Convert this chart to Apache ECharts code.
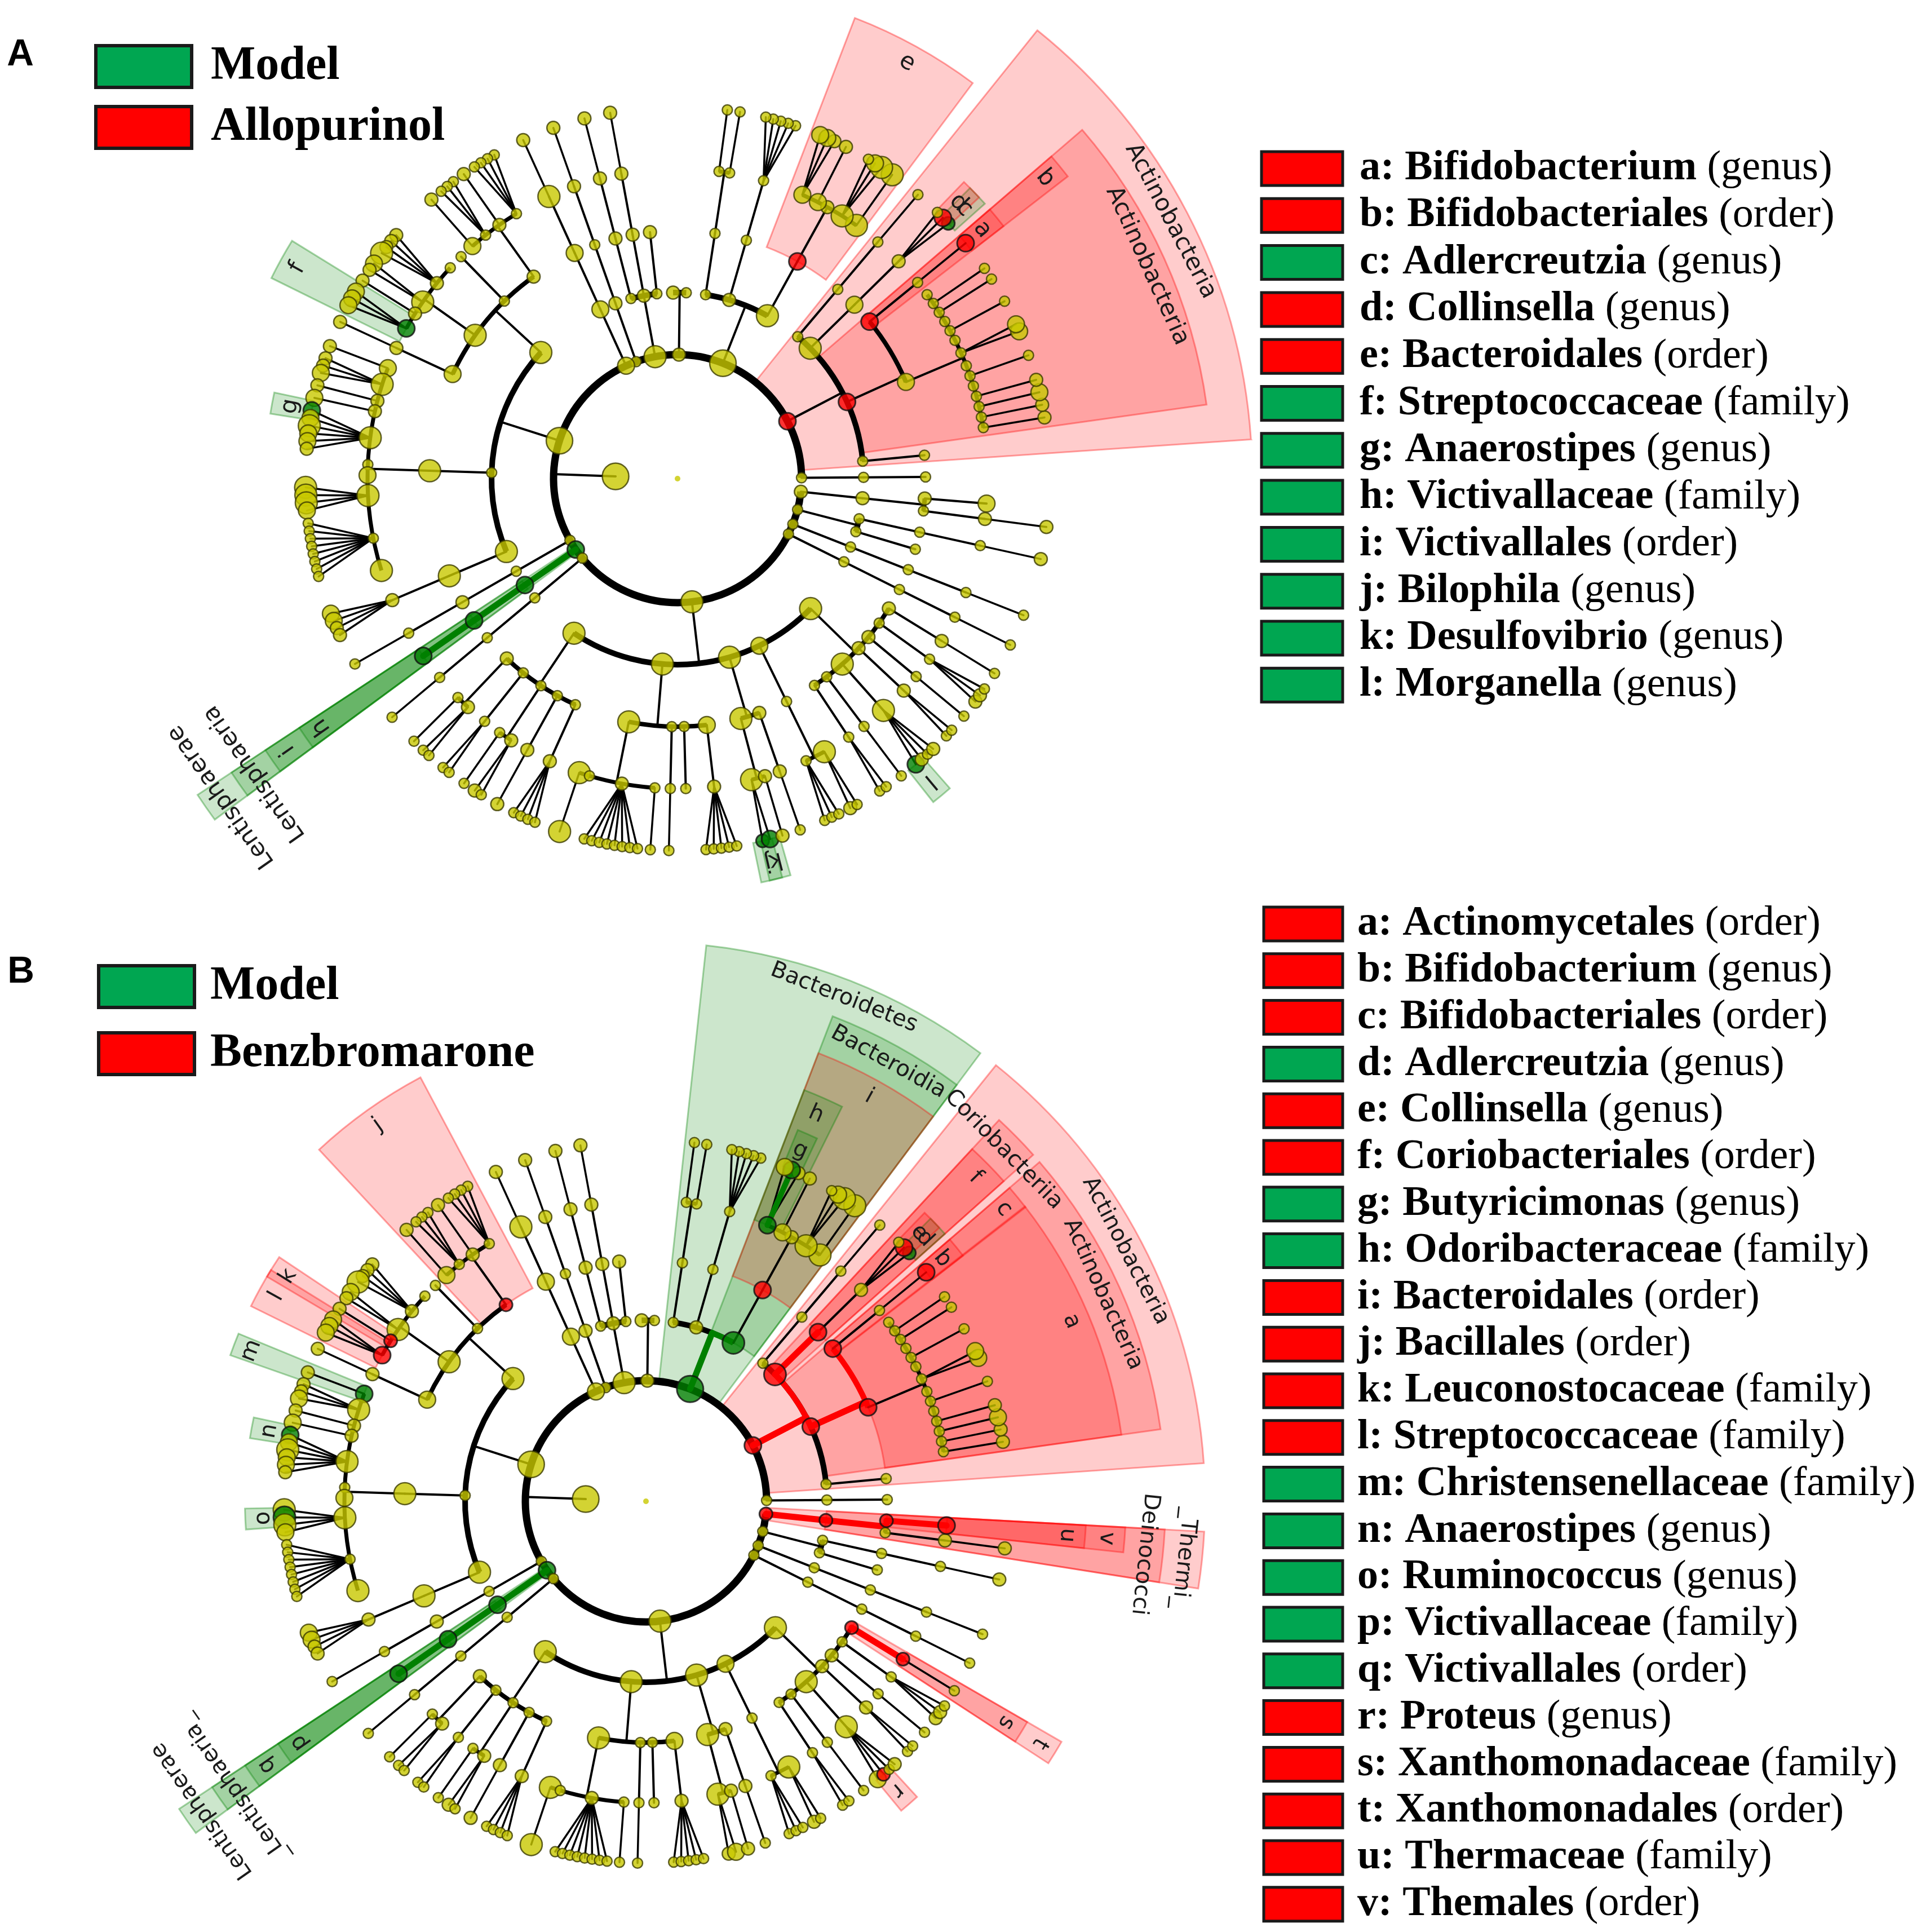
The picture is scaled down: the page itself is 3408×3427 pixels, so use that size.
<!DOCTYPE html>
<html>
<head>
<meta charset="utf-8">
<script src="https://cdn.jsdelivr.net/npm/echarts@6/dist/echarts.min.js"></script>
<style>
html,body{margin:0;padding:0;background:#ffffff;}
#chart{width:3408px;height:3427px;}
</style>
</head>
<body>
<div id="chart"></div>
<script>
// ================= DATA =================
// Taxonomic tree (kingdom > phylum > class > order > family > genus), same tree in both panels.
// node = [node size class (log abundance, 1..5), taxon key, children]
const phylumUnclassified = [1,'',[[1,'',[[1]]]]];
const phylumActinobacteria = [3,'Actinobacteria_p',[
  [1,'',[[1]]],
  [3,'Actinobacteria_c',[
    [3,'Actinomycetales',[
      [1,'',[[2]]],[1,'',[[2]]],[1,'',[[3]]],[1,'',[[2]]],[1],[1,'',[[1]]],[1],
      [1,'',[[3],[3]]],[1],[1,'',[[1]]],[1],[1,'',[[1]]],[1,'',[[1]]],[1]
    ]],
    [3,'Bifidobacteriales',[[1,'',[[3,'Bifidobacterium']]]]]
  ]],
  [4,'Coriobacteriia',[[3,'Coriobacteriales',[[2,'',[[2,'Adlercreutzia'],[3,'Collinsella'],[1]]]]]]],
  [1,'',[[1,'',[[1,'',[[1]]]]]]]
]];
const phylumBacteroidetes = [5,'Bacteroidetes',[
  [4,'Bacteroidia',[[3,'Bacteroidales',[
    [4,'',[[4]]],
    [4,'',[[4],[3],[1]]],
    [2],
    [3,'',[[2]]],
    [3,'Odoribacteraceae',[[2],[3,'Butyricimonas'],[3]]]
  ]]]],
  [2,'',[[1,'',[[1,'',[[1],[1],[1],[1],[1]]]]]]],
  [1,'',[[1,'',[[1,'',[[1]]],[1,'',[[1]]]]]]]
]];
const phylumSmall1 = [2,'',[[1],[2]]];
const phylumSmall2 = [4,'',[[1,'',[[2]]],[2,'',[[2,'',[[2,'',[[2]]]]]]],[1,'',[[2,'',[[2,'',[[2]]]]]]]]];
const phylumSmall3 = [1,'',[[2,'',[[1,'',[[2,'',[[2]]]]]]]]];
const phylumSmall4 = [3,'',[[3,'',[[3,'',[[4,'',[[2]]]]]]]]];
const phylumFirmicutes = [5,'',[
  [4,'Bacilli',[
    [2,'Bacillales',[
      [1,'',[[1],[1],[1],[1]]],
      [2,'',[[2]]],
      [1,'',[[1],[1],[1]]],
      [3,'',[[2]]]
    ]],
    [1,'',[[1]]],
    [4,'Lactobacillales',[
      [1],
      [2,'',[[2],[2],[2],[4]]],
      [4,'',[[3],[2]]],
      [2,'Leuconostocaceae',[[2]]],
      [3,'Streptococcaceae',[[3],[3],[3]]]
    ]],
    [3,'',[[2,'',[[2]]]]]
  ]],
  [1,'',[[4,'Clostridiales',[
    [3,'Christensenellaceae',[[2]]],
    [4,'',[[2],[2],[3]]],
    [2,'',[[2]]],
    [2,'',[[3]]],
    [4,'',[[3,'Anaerostipes'],[3],[4],[3],[3],[2]]],
    [1],
    [3],
    [4,'',[[4],[4,'Ruminococcus'],[4],[3]]],
    [1,'',[[1],[1],[1],[1],[1],[1],[1],[1]]],
    [4]
  ]]]],
  [4,'',[[4,'',[[2,'',[[3],[3],[2],[2]]]]]]]
]];
const phylumFuso = [1,'',[[1,'',[[2,'',[[1,'',[[1]]]]]]]]];
const phylumLentisphaerae = [3,'Lentisphaerae',[[3,'Lentisphaeria',[[3,'Victivallales',[[3,'Victivallaceae']]]]]]];
const phylumSmall5 = [1,'',[[1,'',[[1,'',[[1,'',[[1]]]]]]]]];
const phylumProteobacteria = [4,'',[
  [4,'',[
    [2,'',[[1,'',[[1]]],[2,'',[[1],[1]]]]],
    [1,'',[[1,'',[[1],[1]]]]],
    [1,'',[[1,'',[[1]]],[2,'',[[2],[1]]]]],
    [1,'',[[2,'',[[2]]]]],
    [1,'',[[2,'',[[1],[1],[1],[1]]]]]
  ]],
  [4,'',[
    [4,'',[[4,'',[[4]]],[1],[2,'',[[1],[1],[1],[1],[1],[1],[1],[1]]],[1,'',[[1]]]]],
    [1,'',[[1,'',[[1]]]]],
    [1,'',[[1]]],
    [3,'',[[2,'',[[1],[1],[1],[1],[1]]]]]
  ]],
  [4,'',[
    [4,'',[[4,'',[[2,'Bilophila'],[3,'Desulfovibrio']]],[2,'',[[2]]]]],
    [2,'',[[2,'',[[1]]]]]
  ]],
  [3,'',[[1,'',[[1,'',[[1],[1],[1]]],[4,'',[[2],[1]]]]]]],
  [4,'',[
    [1,'',[[1,'',[[1],[1]]]]],
    [1,'',[[1,'',[[1]]]]],
    [4,'Enterobacteriales',[[4,'Enterobacteriaceae',[[3,'Morganella'],[2,'Proteus'],[1],[2]]]]],
    [2,'',[[2,'',[[1],[1]]]]],
    [2,'',[[1,'',[[1]]]]],
    [1,'',[[1,'',[[2],[2],[1]]]]],
    [2,'Xanthomonadales',[[2,'Xanthomonadaceae',[[1]]]]]
  ]]
]];
const phylumLast1 = [1,'',[[1,'',[[1,'',[[1,'',[[1]]]]]]]]];
const phylumLast2 = [1,'',[[1,'',[[1,'',[[1,'',[[1]]]]]]]]];
const phylumLast3 = [1,'',[[1,'',[[1]]],[1,'',[[1,'',[[1,'',[[2]]]]]]]]];
const phylumThermi = [2,'Thermi',[[2,'Deinococci',[[1,'',[[2,'',[[2]]]]],[2,'Thermales',[[3,'Thermaceae']]]]]]];
const phylaOrder = [phylumUnclassified, phylumActinobacteria, phylumBacteroidetes, phylumSmall1, phylumSmall2,
  phylumSmall3, phylumSmall4, phylumFirmicutes, phylumFuso, phylumLentisphaerae, phylumSmall5,
  phylumProteobacteria, phylumLast1, phylumLast2, phylumLast3, phylumThermi];
const kingdomSize = 5;

// Biomarkers: [letter, taxon key, rank, enriched group (R = treatment, G = Model), printed name]
const biomarkersA = [
  ['a','Bifidobacterium','genus','R'],
  ['b','Bifidobacteriales','order','R'],
  ['c','Adlercreutzia','genus','G'],
  ['d','Collinsella','genus','R'],
  ['e','Bacteroidales','order','R'],
  ['f','Streptococcaceae','family','G'],
  ['g','Anaerostipes','genus','G'],
  ['h','Victivallaceae','family','G'],
  ['i','Victivallales','order','G'],
  ['j','Bilophila','genus','G'],
  ['k','Desulfovibrio','genus','G'],
  ['l','Morganella','genus','G']
];
const namedCladesA = [
  ['Actinobacteria_p','Actinobacteria','R'],
  ['Actinobacteria_c','Actinobacteria','R'],
  ['Lentisphaerae','Lentisphaerae','G'],
  ['Lentisphaeria','Lentisphaeria','G']
];
const biomarkersB = [
  ['a','Actinomycetales','order','R'],
  ['b','Bifidobacterium','genus','R'],
  ['c','Bifidobacteriales','order','R'],
  ['d','Adlercreutzia','genus','G'],
  ['e','Collinsella','genus','R'],
  ['f','Coriobacteriales','order','R'],
  ['g','Butyricimonas','genus','G'],
  ['h','Odoribacteraceae','family','G'],
  ['i','Bacteroidales','order','R'],
  ['j','Bacillales','order','R'],
  ['k','Leuconostocaceae','family','R'],
  ['l','Streptococcaceae','family','R'],
  ['m','Christensenellaceae','family','G'],
  ['n','Anaerostipes','genus','G'],
  ['o','Ruminococcus','genus','G'],
  ['p','Victivallaceae','family','G'],
  ['q','Victivallales','order','G'],
  ['r','Proteus','genus','R'],
  ['s','Xanthomonadaceae','family','R'],
  ['t','Xanthomonadales','order','R'],
  ['u','Thermaceae','family','R'],
  ['v','Thermales','order','R','Themales']
];
const namedCladesB = [
  ['Actinobacteria_p','Actinobacteria','R'],
  ['Actinobacteria_c','Actinobacteria','R'],
  ['Coriobacteriia','Coriobacteriia','R'],
  ['Bacteroidetes','Bacteroidetes','G'],
  ['Bacteroidia','Bacteroidia','G'],
  ['Lentisphaerae','Lentisphaerae','G'],
  ['Lentisphaeria','_Lentisphaeria_','G'],
  ['Thermi','_Thermi_','R'],
  ['Deinococci','Deinococci','R']
];
const groupsA = [['Model','G'],['Allopurinol','R']];
const groupsB = [['Model','G'],['Benzbromarone','R']];

// ================= LAYOUT / STYLE =================
const GAP = {1:4.2, 2:3.4, 3:2.4, 4:1.66, 5:1.0};   // angular spacing between neighbouring leaves by shared depth
const START_ANGLE = 0.4;
const SIZE_PX = [0,18,23,30,39,47];
const RING_W = {2:13, 3:10, 4:8, 5:7};
const LINE_COL = ['#000000','#ff0000','#008000'];
const NODE_COL = {R:'#ff0000', G:'#008000'};
const SEC_FILL = [null,'rgba(255,0,0,0.2)','rgba(0,128,0,0.2)'];
const SEC_STROKE = [null,'rgba(255,0,0,0.35)','rgba(0,128,0,0.35)'];
const LEG_COL = {R:'#ff0000', G:'#00a651'};

function layoutTree(){
  const leaves=[], all=[];
  function walk(arr, level, path){
    const n = {size:arr[0], key:arr[1]||'', level:level, kids:[]};
    n.path = path.concat([n]);
    (arr[2]||[]).forEach(c => n.kids.push(walk(c, level+1, n.path)));
    if(!n.kids.length) leaves.push(n);
    all.push(n);
    return n;
  }
  const root = walk([kingdomSize,'',phylaOrder], 1, []);
  let pos = 0; const p = [];
  leaves.forEach((l,i) => {
    if(i>0){
      const a = leaves[i-1].path, b = l.path; let d = 0;
      while(d<a.length && d<b.length && a[d]===b[d]) d++;
      pos += GAP[d];
    }
    p.push(pos);
  });
  const total = pos + GAP[1];
  leaves.forEach((l,i) => { l.angle = START_ANGLE + p[i]*360/total; });
  (function fin(n){
    if(n.kids.length){
      n.kids.forEach(fin);
      n.amin = Math.min.apply(null, n.kids.map(k=>k.amin));
      n.amax = Math.max.apply(null, n.kids.map(k=>k.amax));
      n.angle = (n.amin+n.amax)/2;
    } else { n.amin = n.amax = n.angle; }
  })(root);
  return {root, all};
}
const TREE = layoutTree();

function panelSeries(pi, bioList, named, colorAll, fontPx){
  const info = {};
  bioList.forEach(b => info[b[1]] = {col:b[3], label:b[0]});
  named.forEach(b => info[b[0]] = {col:b[2], label:b[1]});
  const code = c => c==='R' ? 1 : 2;
  const nodeData = [], lineData = [], arcData = [], secItems = [], labData = [], labTexts = [];
  nodeData.push({value:[0,0], symbolSize:10, itemStyle:{color:'#c8c800', borderWidth:0}});
  TREE.all.forEach(n => {
    const bi = info[n.key];
    nodeData.push({value:[n.level, n.angle], symbolSize:SIZE_PX[n.size],
      itemStyle:{color: bi ? NODE_COL[bi.col] : '#c8c800', borderColor: bi ? '#111111' : '#3c3c00', borderWidth: bi ? 3 : 2.5}});
    if(n.kids.length){
      const cl = n.level+1;
      if(cl===6){ n.kids.forEach(k => lineData.push([n.level, n.angle, cl, k.angle, 3.5, 0])); }
      else {
        lineData.push([n.level, n.angle, cl, n.angle, 4, 0]);
        if(n.kids.length>1) arcData.push([cl, n.kids[0].angle, n.kids[n.kids.length-1].angle, RING_W[cl], 0]);
      }
      n.kids.forEach(k => {
        const bk = info[k.key];
        if(bi && bk && bi.col===bk.col && (colorAll || n.kids.length===1)){
          const cc = code(bk.col);
          if(cl===6) lineData.push([n.level, n.angle, cl, k.angle, 10, cc]);
          else {
            lineData.push([n.level, n.angle, cl, n.angle, 11, cc]);
            if(Math.abs(k.angle-n.angle)>0.01) arcData.push([cl, Math.min(n.angle,k.angle), Math.max(n.angle,k.angle), Math.max(RING_W[cl],10), cc]);
          }
        }
      });
    }
    if(bi){
      const outer = 6.65 + 0.655*(6-n.level);
      secItems.push({lvl:n.level, v:[n.level, n.amin-1.5, outer, n.amax+1.5, code(bi.col)]});
      labData.push([outer-0.3, n.angle, labTexts.length]);
      labTexts.push(bi.label);
    }
  });
  secItems.sort((a,b) => a.lvl-b.lvl);
  const secData = secItems.map(s => s.v);
  const base = {coordinateSystem:'polar', polarIndex:pi, silent:true, animation:false};
  const geo = (params, api, v) => {
    const cs = params.coordSys; const p = api.coord(v);
    return {p, r:Math.hypot(p[0]-cs.cx, p[1]-cs.cy), a:Math.atan2(p[1]-cs.cy, p[0]-cs.cx), cx:cs.cx, cy:cs.cy};
  };
  return [
    Object.assign({type:'custom', z:1, data:secData, renderItem:(params, api) => {
      const g0 = geo(params, api, [api.value(0), api.value(1)]);
      const g1 = geo(params, api, [api.value(2), api.value(1)]);
      const g2 = geo(params, api, [api.value(2), api.value(3)]);
      const c = api.value(4);
      return {type:'sector', shape:{cx:g0.cx, cy:g0.cy, r0:g0.r, r:g1.r, startAngle:g1.a, endAngle:g2.a, clockwise:false},
        style:{fill:SEC_FILL[c], stroke:SEC_STROKE[c], lineWidth:3}};
    }}, base),
    Object.assign({type:'custom', z:2, data:arcData, renderItem:(params, api) => {
      const g1 = geo(params, api, [api.value(0), api.value(1)]);
      const g2 = geo(params, api, [api.value(0), api.value(2)]);
      return {type:'arc', shape:{cx:g1.cx, cy:g1.cy, r:g1.r, startAngle:g1.a, endAngle:g2.a, clockwise:false},
        style:{stroke:LINE_COL[api.value(4)], lineWidth:api.value(3), fill:null}};
    }}, base),
    Object.assign({type:'custom', z:3, data:lineData, renderItem:(params, api) => {
      const p1 = api.coord([api.value(0), api.value(1)]);
      const p2 = api.coord([api.value(2), api.value(3)]);
      return {type:'line', shape:{x1:p1[0], y1:p1[1], x2:p2[0], y2:p2[1]},
        style:{stroke:LINE_COL[api.value(5)], lineWidth:api.value(4), lineCap:'round'}};
    }}, base),
    Object.assign({type:'scatter', z:4, symbol:'circle', data:nodeData}, base),
    Object.assign({type:'custom', z:5, data:labData, renderItem:(params, api) => {
      const g = geo(params, api, [api.value(0), api.value(1)]);
      const theta = -g.a;
      return {type:'text', x:g.p[0], y:g.p[1], rotation:theta - Math.PI/2,
        style:{text:labTexts[api.value(2)], fontSize:fontPx, fontFamily:'DejaVu Sans', fill:'#1a1a1a', align:'center', verticalAlign:'middle'}};
    }}, base)
  ];
}

function legendGraphics(list, boxX, boxW, y0, step, textX, fontPx){
  const out = [];
  list.forEach((b,i) => {
    const cy = y0 + i*step;
    out.push({type:'rect', shape:{x:boxX, y:cy-30, width:boxW, height:60}, style:{fill:LEG_COL[b[3]], stroke:'#1a1a1a', lineWidth:5}});
    out.push({type:'text', x:textX, y:cy, style:{text:'{b|'+b[0]+': '+(b[4]||b[1])+'}{n| ('+b[2]+')}',
      rich:{b:{fontSize:fontPx, fontWeight:'bold', fontFamily:'Liberation Serif', fill:'#000'},
            n:{fontSize:fontPx, fontWeight:'normal', fontFamily:'Liberation Serif', fill:'#000'}},
      align:'left', verticalAlign:'middle'}});
  });
  return out;
}
function groupGraphics(groups, boxX, ys, textX){
  const out = [];
  groups.forEach((g,i) => {
    out.push({type:'rect', shape:{x:boxX, y:ys[i]-37, width:170, height:74}, style:{fill:LEG_COL[g[1]], stroke:'#1a1a1a', lineWidth:6}});
    out.push({type:'text', x:textX, y:ys[i], style:{text:g[0], fontSize:84, fontWeight:'bold', fontFamily:'Liberation Serif', fill:'#000', align:'left', verticalAlign:'middle'}});
  });
  return out;
}

const chart = echarts.init(document.getElementById('chart'), null, {width:3408, height:3427, renderer:'canvas'});
const graphics = [].concat(
  [{type:'text', x:36, y:98, style:{text:'A', fontSize:66, fontWeight:'bold', fontFamily:'Liberation Sans', fill:'#000', align:'center', verticalAlign:'middle'}},
   {type:'text', x:37, y:1725, style:{text:'B', fontSize:66, fontWeight:'bold', fontFamily:'Liberation Sans', fill:'#000', align:'center', verticalAlign:'middle'}}],
  groupGraphics(groupsA, 170, [118, 226], 374),
  groupGraphics(groupsB, 175, [1750, 1869], 373),
  legendGraphics(biomarkersA, 2238, 144, 299, 83.3, 2412, 74),
  legendGraphics(biomarkersB, 2242, 140, 1639, 82.8, 2408, 74)
);
chart.setOption({
  animation:false,
  backgroundColor:'#ffffff',
  polar:[{center:[1202,849], radius:1100},{center:[1146,2663], radius:1070}],
  angleAxis:[
    {polarIndex:0, type:'value', min:0, max:360, startAngle:0, clockwise:false, show:false},
    {polarIndex:1, type:'value', min:0, max:360, startAngle:0, clockwise:false, show:false}
  ],
  radiusAxis:[
    {polarIndex:0, type:'value', min:0, max:10, show:false},
    {polarIndex:1, type:'value', min:0, max:10, show:false}
  ],
  graphic:graphics,
  series:[].concat(
    panelSeries(0, biomarkersA, namedCladesA, false, 42),
    panelSeries(1, biomarkersB, namedCladesB, true, 40)
  )
});
</script>
</body>
</html>
